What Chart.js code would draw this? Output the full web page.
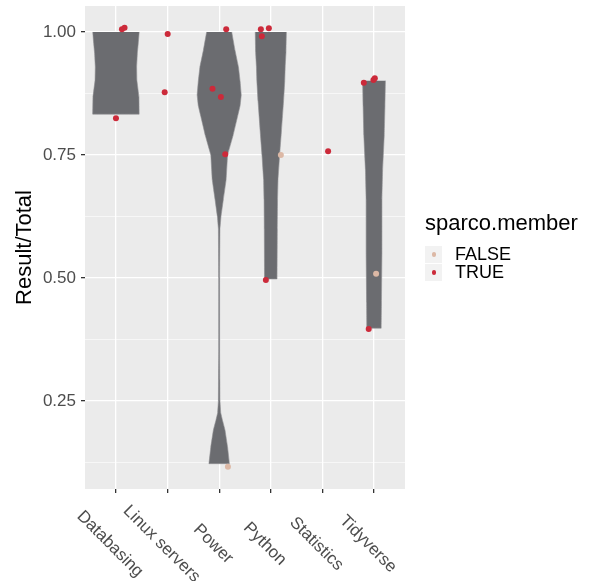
<!DOCTYPE html>
<html>
<head>
<meta charset="utf-8">
<script src="https://cdn.jsdelivr.net/npm/chart.js@4.4.1/dist/chart.umd.min.js"></script>
<style>
  html, body { margin: 0; padding: 0; background: #fff; }
  #wrap { position: relative; width: 593px; height: 581px; font-family: "Liberation Sans", Arial, sans-serif; }
  #legend { position: absolute; left: 425px; top: 210px; color: #000; }
  #legend .ltitle { font-size: 22px; line-height: 26px; margin-bottom: 9px; }
  #legend .item { display: flex; align-items: center; height: 18px; }
  #legend .key { width: 17px; height: 17px; background: #f2f2f2; position: relative; }
  #legend .key i { position: absolute; left: 6.5px; top: 6.5px; width: 4.5px; height: 4.5px; border-radius: 50%; }
  #legend .lab { font-size: 18px; margin-left: 13px; line-height: 18px; }
</style>
</head>
<body>
<div id="wrap">
  <canvas id="chart"></canvas>
  <div id="legend"></div>
</div>
<script>
var categories = ['Databasing', 'Linux servers', 'Power', 'Python', 'Statistics', 'Tidyverse'];
var majorTicks = [0.25, 0.5, 0.75, 1.0];
var minorTicks = [0.125, 0.375, 0.625, 0.875];
var legendLabels = ['FALSE', 'TRUE'];
var yTitle = 'Result/Total';
var legendTitle = 'sparco.member';

// jittered points (x = category position incl. jitter)
var trueX = [1.116, 1.166, 1.000, 2.002, 1.944, 3.136, 2.870, 3.033, 3.117, 3.807, 3.962, 3.826, 3.904, 5.110, 5.802, 5.988, 6.015, 5.897];
var trueY = [1.0055, 1.0087, 0.8246, 0.9959, 0.8774, 1.0055, 0.8848, 0.8679, 0.7514, 1.0055, 1.0075, 0.9913, 0.4959, 0.7575, 0.8970, 0.9024, 0.9059, 0.3963];
var falseX = [3.169, 4.195, 6.040];
var falseY = [0.1164, 0.7500, 0.5087];

// violin density profiles (relative, 1 = widest)
var databasingLevels = [1.0, 0.977, 0.957, 0.929, 0.902, 0.868, 0.833];
var databasingDens   = [1.0, 0.96, 0.92, 0.89, 0.90, 0.99, 1.0];
var powerLevels = [1.0, 0.963, 0.929, 0.9, 0.872, 0.85, 0.828, 0.79, 0.75, 0.70, 0.66, 0.625, 0.6, 0.5, 0.35, 0.293, 0.25, 0.226, 0.211, 0.191, 0.157, 0.1226];
var powerDens   = [0.54, 0.68, 0.83, 0.90, 0.95, 0.90, 0.79, 0.60, 0.36, 0.30, 0.18, 0.077, 0.034, 0.022, 0.022, 0.03, 0.035, 0.065, 0.14, 0.25, 0.36, 0.44];
var pythonLevels = [1.0, 0.96, 0.93, 0.9, 0.86, 0.8, 0.75, 0.7, 0.66, 0.6, 0.498];
var pythonDens   = [0.67, 0.655, 0.62, 0.60, 0.55, 0.46, 0.38, 0.31, 0.29, 0.28, 0.27];
var tidyLevels = [0.901, 0.85, 0.79, 0.72, 0.66, 0.55, 0.45, 0.398];
var tidyDens   = [0.49, 0.47, 0.44, 0.37, 0.34, 0.34, 0.32, 0.31];

var FONT = '"Liberation Sans", Arial, sans-serif';
var RED = '#cc2a3a';
var TAN = '#dcb8a5';
var halfWidth = 0.45;

function violin(cat, levels, dens) {
    var c = categories.indexOf(cat) + 1;
    var right = levels.map(function(v, i) { return { x: c + halfWidth * dens[i], y: v }; });
    var left = levels.map(function(v, i) { return { x: c - halfWidth * dens[i], y: v }; }).reverse();
    return {
        data: right.concat(left),
        showLine: true,
        fill: 'shape',
        tension: 0.001, // avoids the fast path, which assumes x-sorted points
        backgroundColor: '#6b6c70',
        borderColor: '#8e8f92',
        borderWidth: 0.6,
        pointRadius: 0,
        order: 2
    };
}

function points(xs, ys, color) {
    return {
        data: xs.map(function(x, i) { return { x: x, y: ys[i] }; }),
        pointRadius: 3,
        pointBackgroundColor: color,
        pointBorderWidth: 0,
        borderWidth: 0,
        order: 1
    };
}

function noPad(s) {
    s.paddingTop = 0;
    s.paddingBottom = 0;
    s.paddingLeft = 0;
    s.paddingRight = 0;
}

var panelBg = {
    id: 'panelBg',
    beforeDraw: function(chart) {
        var a = chart.chartArea, c = chart.ctx;
        c.save();
        c.fillStyle = '#ebebeb';
        c.fillRect(a.left, a.top, a.right - a.left, a.bottom - a.top);
        c.restore();
    }
};

var xLabels = {
    id: 'xLabels',
    afterDraw: function(chart) {
        var c = chart.ctx, sx = chart.scales.x;
        c.save();
        c.font = '17px ' + FONT;
        c.fillStyle = '#4d4d4d';
        c.textAlign = 'center';
        c.textBaseline = 'middle';
        categories.forEach(function(cat, i) {
            var px = sx.getPixelForValue(i + 1);
            c.save();
            c.translate(px - 6, chart.chartArea.bottom + 55);
            c.rotate(Math.PI / 4);
            c.fillText(cat, 0, 0);
            c.restore();
        });
        c.restore();
    }
};

var ctx = document.getElementById('chart').getContext('2d');
new Chart(ctx, {
    type: 'scatter',
    data: {
        datasets: [
            points(trueX, trueY, RED),
            points(falseX, falseY, TAN),
            violin('Databasing', databasingLevels, databasingDens),
            violin('Power', powerLevels, powerDens),
            violin('Python', pythonLevels, pythonDens),
            violin('Tidyverse', tidyLevels, tidyDens)
        ]
    },
    options: {
        responsive: true,
        maintainAspectRatio: false,
        animation: false,
        events: [],
        layout: { padding: { top: 6, right: 188, left: 0, bottom: 0 } },
        plugins: { legend: { display: false }, tooltip: { enabled: false } },
        scales: {
            x: {
                type: 'linear',
                min: 0.4,
                max: 6.6,
                afterBuildTicks: function(s) { s.ticks = categories.map(function(c, i) { return { value: i + 1 }; }); },
                afterFit: function(s) { s.height = 92; noPad(s); },
                grid: { color: '#ffffff', lineWidth: 1.3, tickColor: '#333333', tickLength: 4 },
                border: { display: false },
                ticks: { autoSkip: false, maxRotation: 0, callback: function() { return ''; } }
            },
            y: {
                min: 0.0711,
                max: 1.0528,
                afterBuildTicks: function(s) {
                    s.ticks = minorTicks.concat(majorTicks).sort().map(function(v) { return { value: v }; });
                },
                afterFit: function(s) { s.width = 85; noPad(s); },
                grid: {
                    color: '#ffffff',
                    lineWidth: function(c) { return majorTicks.indexOf(c.tick.value) >= 0 ? 1.3 : 0.6; },
                    tickColor: function(c) { return majorTicks.indexOf(c.tick.value) >= 0 ? '#333333' : 'rgba(0,0,0,0)'; },
                    tickLength: 4
                },
                border: { display: false },
                ticks: {
                    color: '#4d4d4d',
                    padding: 5,
                    font: { size: 17, family: FONT },
                    callback: function(v) { return majorTicks.indexOf(v) >= 0 ? v.toFixed(2) : ''; }
                },
                title: {
                    display: true,
                    text: yTitle,
                    color: '#000',
                    font: { size: 22, family: FONT },
                    padding: { top: 12, bottom: 0 }
                }
            }
        }
    },
    plugins: [panelBg, xLabels]
});

// legend
var legendColors = [TAN, RED];
var lg = document.getElementById('legend');
var html = '<div class="ltitle">' + legendTitle + '</div>';
legendLabels.forEach(function(l, i) {
    html += '<div class="item"><span class="key"><i style="background:' + legendColors[i] + '"></i></span><span class="lab">' + l + '</span></div>';
});
lg.innerHTML = html;
</script>
</body>
</html>
